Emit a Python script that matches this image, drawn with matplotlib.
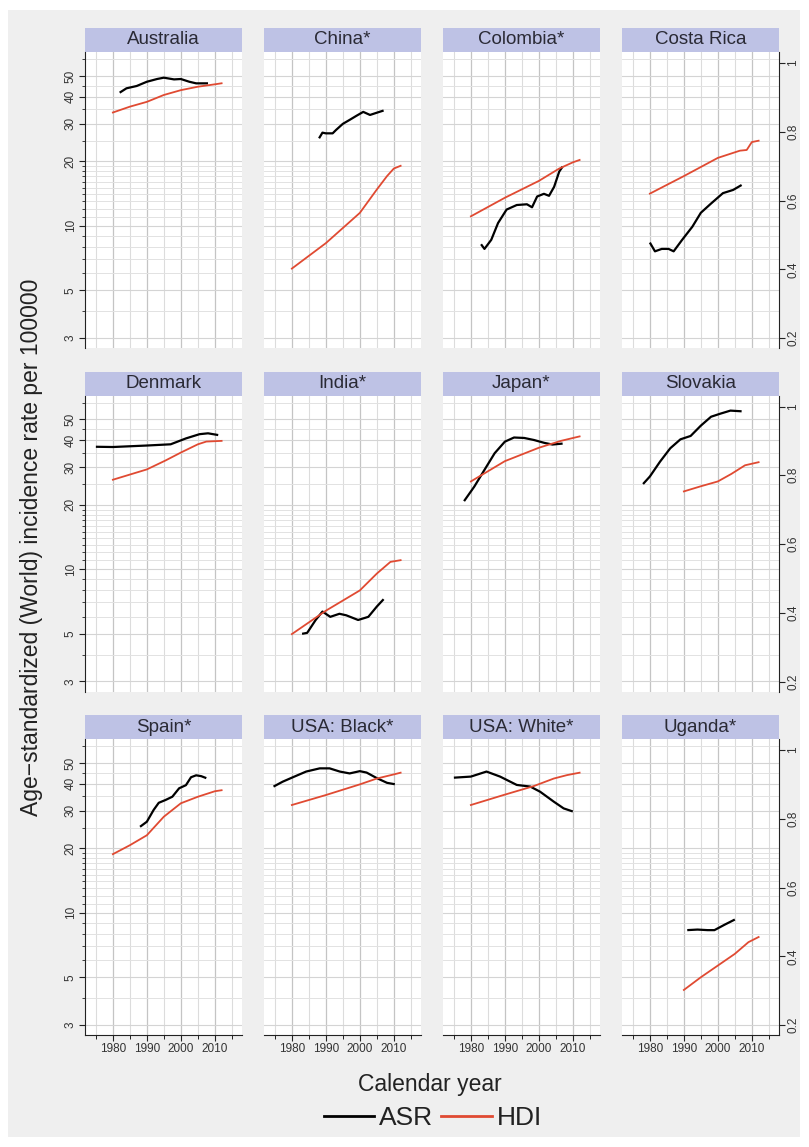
import matplotlib
matplotlib.use("Agg")
import matplotlib.pyplot as plt
from matplotlib.patches import Rectangle
from matplotlib.lines import Line2D

plt.rcParams['font.family'] = ['Liberation Sans', 'DejaVu Sans']

# ---- data (ASR on log scale, HDI on right axis) ----
countries = ["Australia", "China*", "Colombia*", "Costa Rica",
             "Denmark", "India*", "Japan*", "Slovakia",
             "Spain*", "USA: Black*", "USA: White*", "Uganda*"]

aus_asr_yr = [1982, 1984, 1987, 1990, 1993, 1995, 1998, 2000, 2002.5, 2004.5, 2008]
aus_asr = [41.8, 43.8, 44.9, 47.0, 48.4, 49.1, 48.2, 48.4, 47.0, 46.2, 46.2]
aus_hdi_yr = [1980, 1985, 1990, 1995, 2000, 2005, 2010, 2012]
aus_hdi = [0.856, 0.873, 0.887, 0.907, 0.921, 0.931, 0.938, 0.941]

chn_asr_yr = [1988, 1989, 1990, 1992, 1993, 1995, 1997, 1999, 2001, 2003, 2005, 2007]
chn_asr = [25.6, 27.2, 27.0, 27.0, 28.0, 29.9, 31.2, 32.6, 34.0, 32.9, 33.7, 34.5]
chn_hdi_yr = [1980, 1990, 2000, 2005, 2008, 2010, 2012]
chn_hdi = [0.402, 0.476, 0.564, 0.632, 0.671, 0.693, 0.701]

col_asr_yr = [1983, 1984, 1986, 1988, 1990.5, 1993.5, 1996.5, 1998, 1999.5, 2001.5, 2003, 2004.5, 2006, 2007]
col_asr = [8.2, 7.8, 8.6, 10.3, 11.9, 12.5, 12.6, 12.2, 13.7, 14.1, 13.8, 15.2, 17.9, 18.9]
col_hdi_yr = [1980, 1990, 2000, 2006, 2010, 2012]
col_hdi = [0.554, 0.608, 0.657, 0.693, 0.711, 0.718]

cri_asr_yr = [1980, 1981.5, 1983.5, 1985.5, 1987, 1989.5, 1992.5, 1995, 1998, 2001.5, 2004.5, 2007]
cri_asr = [8.35, 7.6, 7.8, 7.8, 7.6, 8.6, 9.9, 11.5, 12.7, 14.2, 14.7, 15.5]
cri_hdi_yr = [1980, 1990, 2000, 2006.5, 2008.5, 2010, 2012]
cri_hdi = [0.620, 0.671, 0.724, 0.745, 0.747, 0.770, 0.774]

dnk_asr_yr = [1975, 1980, 1990, 1997, 2001.5, 2005.5, 2008, 2011]
dnk_asr = [37.3, 37.2, 37.8, 38.3, 40.8, 42.7, 43.1, 42.3]
dnk_hdi_yr = [1980, 1985, 1990, 1995.5, 2000, 2005, 2007.5, 2012]
dnk_hdi = [0.787, 0.802, 0.817, 0.843, 0.866, 0.890, 0.898, 0.900]

ind_asr_yr = [1983, 1984.5, 1987, 1989, 1991.3, 1994, 1996, 1999.5, 2002.5, 2005, 2007]
ind_asr = [5.0, 5.05, 5.8, 6.35, 6.0, 6.2, 6.1, 5.8, 6.0, 6.7, 7.25]
ind_hdi_yr = [1980, 1990, 2000, 2005, 2009, 2012]
ind_hdi = [0.338, 0.406, 0.465, 0.514, 0.548, 0.553]

jpn_asr_yr = [1978, 1981, 1984, 1987, 1990, 1992.7, 1995.7, 1998.6, 2001.6, 2004, 2007]
jpn_asr = [20.8, 24.3, 29.1, 34.8, 39.4, 41.2, 41.0, 40.1, 38.9, 38.2, 38.6]
jpn_hdi_yr = [1980, 1990, 2000, 2006.5, 2012]
jpn_hdi = [0.782, 0.841, 0.880, 0.900, 0.913]

svk_asr_yr = [1978, 1980, 1983, 1986, 1989, 1992, 1995, 1998, 2000.7, 2003.7, 2007]
svk_asr = [25.0, 27.1, 31.8, 36.7, 40.4, 41.9, 46.8, 51.5, 53.2, 55.0, 54.6]
svk_hdi_yr = [1990, 1995, 2000, 2004, 2008, 2012]
svk_hdi = [0.753, 0.768, 0.782, 0.804, 0.829, 0.838]

esp_asr_yr = [1988, 1990, 1992, 1993.5, 1995.5, 1997.5, 1999.5, 2001.5, 2003, 2004.5, 2006, 2007.5]
esp_asr = [25.2, 26.6, 30.2, 32.6, 33.6, 34.8, 38.1, 39.4, 42.9, 43.8, 43.4, 42.5]
esp_hdi_yr = [1980, 1985, 1990, 1995, 2000, 2005, 2010, 2012]
esp_hdi = [0.697, 0.723, 0.752, 0.806, 0.845, 0.864, 0.880, 0.883]

usb_asr_yr = [1974.6, 1977.3, 1980.3, 1984.2, 1988.2, 1991.1, 1994.1, 1997, 2000, 2002, 2005, 2008, 2010.3]
usb_asr = [38.8, 40.9, 42.9, 45.6, 47.2, 47.2, 45.6, 44.7, 45.8, 45.1, 42.5, 40.4, 39.8]
usb_hdi_yr = [1980, 1990, 2000, 2005, 2010, 2012]
usb_hdi = [0.840, 0.869, 0.900, 0.917, 0.929, 0.934]

usw_asr_yr = [1975, 1980, 1984.6, 1988.6, 1993.5, 1997.5, 2000.4, 2004.4, 2007.3, 2010]
usw_asr = [42.7, 43.2, 45.6, 43.2, 39.5, 38.8, 36.7, 33.0, 30.7, 29.7]
usw_hdi_yr = [1980, 1989.6, 1998.5, 2004.4, 2008.3, 2012]
usw_hdi = [0.840, 0.869, 0.895, 0.917, 0.927, 0.934]

uga_asr_yr = [1991, 1994, 1997, 1999, 2002, 2005]
uga_asr = [8.3, 8.35, 8.3, 8.3, 8.8, 9.3]
uga_hdi_yr = [1990, 1995, 2000, 2005, 2009, 2012]
uga_hdi = [0.302, 0.339, 0.373, 0.407, 0.441, 0.456]

series = [
    (aus_asr_yr, aus_asr, aus_hdi_yr, aus_hdi),
    (chn_asr_yr, chn_asr, chn_hdi_yr, chn_hdi),
    (col_asr_yr, col_asr, col_hdi_yr, col_hdi),
    (cri_asr_yr, cri_asr, cri_hdi_yr, cri_hdi),
    (dnk_asr_yr, dnk_asr, dnk_hdi_yr, dnk_hdi),
    (ind_asr_yr, ind_asr, ind_hdi_yr, ind_hdi),
    (jpn_asr_yr, jpn_asr, jpn_hdi_yr, jpn_hdi),
    (svk_asr_yr, svk_asr, svk_hdi_yr, svk_hdi),
    (esp_asr_yr, esp_asr, esp_hdi_yr, esp_hdi),
    (usb_asr_yr, usb_asr, usb_hdi_yr, usb_hdi),
    (usw_asr_yr, usw_asr, usw_hdi_yr, usw_hdi),
    (uga_asr_yr, uga_asr, uga_hdi_yr, uga_hdi),
]

asr_ticks = [3, 5, 10, 20, 30, 40, 50]
asr_minor = [4, 6, 7, 8, 9, 11, 12, 13, 14, 15, 16, 17, 18, 19, 25, 35, 45, 60]
hdi_ticks = [0.2, 0.4, 0.6, 0.8, 1]
year_ticks = [1980, 1990, 2000, 2010]
year_minor = [1975, 1985, 1995, 2005, 2015]

# ---- layout (pixels) ----
W, H = 809, 1147
BG = '#efefef'
STRIP = '#bec2e5'
RED = '#e04a32'
col_left = [85, 264, 443, 622]
row_top = [52, 395.5, 739]
pw, ph, sh = 157, 296, 24


def px_axes(fig, left, top, w, h):
    return fig.add_axes([left / W, 1 - (top + h) / H, w / W, h / H])


fig = plt.figure(figsize=(W / 100, H / 100), dpi=100)
fig.patch.set_facecolor('white')
fig.add_artist(Rectangle((8 / W, 10 / H), (800 - 8) / W, (1137 - 10) / H,
                         transform=fig.transFigure, facecolor=BG,
                         edgecolor='none', zorder=-10))

for k, name in enumerate(countries):
    r, c = divmod(k, 4)
    x0, y0 = col_left[c], row_top[r]
    asr_yr, asr, hdi_yr, hdi = series[k]

    # strip header
    st = px_axes(fig, x0, y0 - sh, pw, sh)
    st.set_facecolor(STRIP)
    st.set_xticks([])
    st.set_yticks([])
    for s in st.spines.values():
        s.set_visible(False)
    st.text(0.5, 0.5, name, ha='center', va='center', fontsize=13.5,
            color='#2a2a35', transform=st.transAxes)

    ax = px_axes(fig, x0, y0, pw, ph)
    ax.set_facecolor('white')
    ax.set_yscale('log')
    ax.set_xlim(1971.8, 2018)
    ax.set_ylim(2.69, 64.7)
    ax.set_yticks(asr_ticks)
    ax.set_yticks(asr_minor, minor=True)
    ax.set_yticklabels([str(t) for t in asr_ticks])
    ax.set_yticklabels([], minor=True)
    ax.set_xticks(year_ticks)
    ax.set_xticks(year_minor, minor=True)
    ax.set_xticklabels([str(t) for t in year_ticks],
                       family=['Liberation Sans Narrow', 'Liberation Sans'])
    ax.grid(which='major', axis='x', color='#c4c4c4', lw=0.9)
    ax.grid(which='minor', axis='x', color='#dcdcdc', lw=0.8)
    ax.grid(which='major', axis='y', color='#d4d4d4', lw=0.8)
    ax.grid(which='minor', axis='y', color='#e2e2e2', lw=0.7)
    ax.set_axisbelow(True)

    ax.plot(asr_yr, asr, color='black', lw=1.6, zorder=3, solid_capstyle='butt')

    ax2 = ax.twinx()
    ax2.set_ylim(0.171, 1.032)
    ax2.set_yticks(hdi_ticks)
    ax2.set_yticklabels(['0.2', '0.4', '0.6', '0.8', '1'])
    ax2.plot(hdi_yr, hdi, color=RED, lw=1.3, zorder=3)

    for a in (ax, ax2):
        for s in a.spines.values():
            s.set_visible(False)

    ax.tick_params(axis='both', which='both', color='#222222', labelcolor='#333333')
    ax2.tick_params(axis='y', which='both', color='#222222', labelcolor='#333333')

    # left axis only in first column
    if c == 0:
        ax.spines['left'].set_visible(True)
        ax.spines['left'].set_color('#222222')
        ax.tick_params(axis='y', which='major', length=4, width=0.8, labelsize=8.5,
                       labelrotation=90, pad=2)
        ax.tick_params(axis='y', which='minor', length=2, width=0.6)
        for lab in ax.get_yticklabels():
            lab.set_va('center')
    else:
        ax.tick_params(axis='y', which='both', left=False, labelleft=False)

    # right axis only in last column
    if c == 3:
        ax2.spines['right'].set_visible(True)
        ax2.spines['right'].set_color('#222222')
        ax2.tick_params(axis='y', length=4, width=0.8, labelsize=8.5,
                        labelrotation=90, pad=2)
        for lab in ax2.get_yticklabels():
            lab.set_va('center')
    else:
        ax2.tick_params(axis='y', which='both', right=False, labelright=False)

    # x axis only in bottom row
    if r == 2:
        ax.spines['bottom'].set_visible(True)
        ax.spines['bottom'].set_color('#222222')
        ax.tick_params(axis='x', which='major', length=4, width=0.8, labelsize=8.5, pad=2)
        ax.tick_params(axis='x', which='minor', length=3, width=0.7)
    else:
        ax.tick_params(axis='x', which='both', bottom=False, labelbottom=False)

fig.text(32 / W, 1 - 547 / H, 'Age\u2212standardized (World) incidence rate per 100000',
         rotation=90, ha='center', va='center', fontsize=16.5, color='#222222')
fig.text(430 / W, 1 - 1085 / H, 'Calendar year', ha='center', va='center',
         fontsize=16.5, color='#222222')

handles = [Line2D([], [], color='black', lw=2.0),
           Line2D([], [], color=RED, lw=2.0)]
leg = fig.legend(handles, ['ASR', 'HDI'], loc='center',
                 bbox_to_anchor=(433 / W, 1 - 1118 / H), ncol=2, frameon=False,
                 fontsize=19, handlelength=1.9, handletextpad=0.2,
                 columnspacing=0.3)
for t in leg.get_texts():
    t.set_color('#222222')

fig.savefig('out.png', dpi=100, facecolor=fig.get_facecolor())
